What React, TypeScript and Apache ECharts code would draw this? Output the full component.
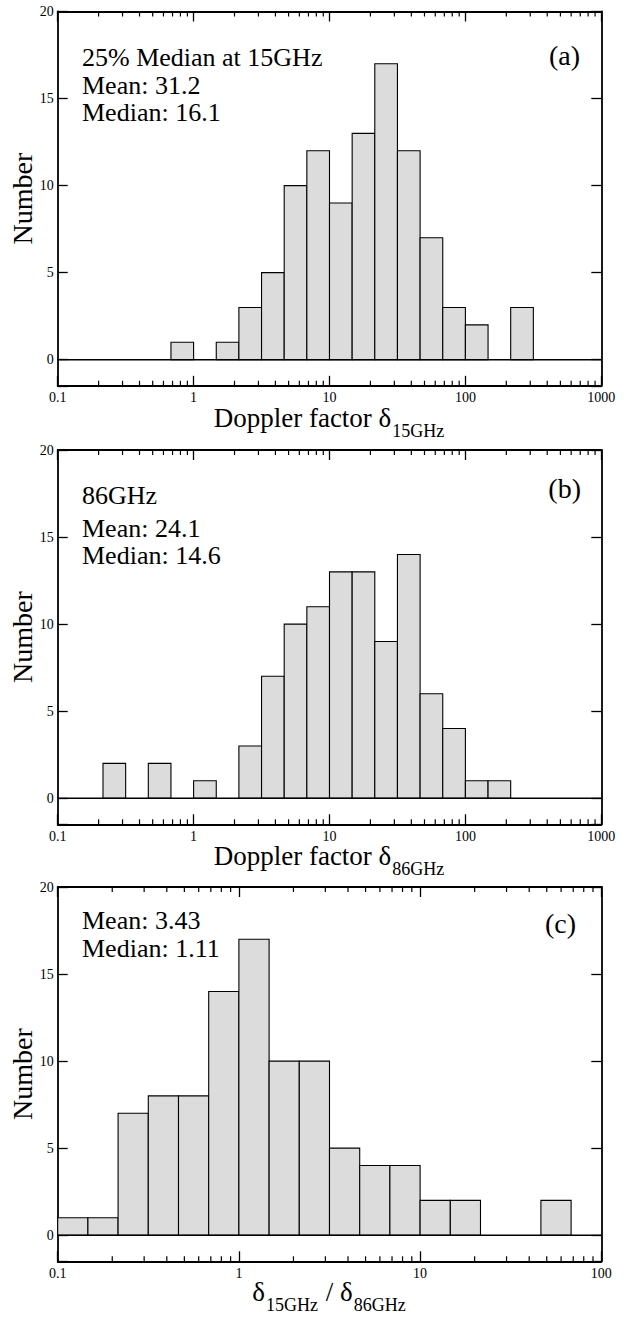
import React, { useEffect, useRef } from "react";
import * as echarts from "echarts";

// ---------- data ----------
// log-spaced histogram bin edges (1/6 decade)
const binEdges = [
  0.1, 0.1468, 0.2154, 0.3162, 0.4642, 0.6813, 1, 1.468, 2.154, 3.162, 4.642, 6.813,
  10, 14.68, 21.54, 31.62, 46.42, 68.13, 100, 146.8, 215.4, 316.2, 464.2, 681.3, 1000,
];
const countsA = [0, 0, 0, 0, 0, 1, 0, 1, 3, 5, 10, 12, 9, 13, 17, 12, 7, 3, 2, 0, 3, 0, 0, 0];
const countsB = [0, 0, 2, 0, 2, 0, 1, 0, 3, 7, 10, 11, 13, 13, 9, 14, 6, 4, 1, 1, 0, 0, 0, 0];
const countsC = [1, 1, 7, 8, 8, 14, 17, 10, 10, 5, 4, 4, 2, 2, 0, 0, 2, 0];

const xMaxAB = 1000;
const xMaxC = 100;
const xMin = 0.1;
const yMin = -1.5;
const yMax = 20;
const minorTicksAB = [
  0.2, 0.3, 0.4, 0.5, 0.6, 0.7, 0.8, 0.9, 2, 3, 4, 5, 6, 7, 8, 9,
  20, 30, 40, 50, 60, 70, 80, 90, 200, 300, 400, 500, 600, 700, 800, 900,
];
const minorTicksC = [
  0.2, 0.3, 0.4, 0.5, 0.6, 0.7, 0.8, 0.9, 2, 3, 4, 5, 6, 7, 8, 9,
  20, 30, 40, 50, 60, 70, 80, 90,
];
const notesA = ["25% Median at 15GHz", "Mean: 31.2", "Median: 16.1"];
const notesB = ["86GHz", "Mean: 24.1", "Median: 14.6"];
const notesC = ["Mean: 3.43", "Median: 1.11"];
const panelTags = ["(a)", "(b)", "(c)"];
const yTitle = "Number";

// ---------- layout ----------
const FONT = "Liberation Serif, Times New Roman, serif";
const GL = 57.7;
const GW = 543.6;
const GH = 374.3;
const TOPS = [11.5, 450, 887];

function measure(text: string, size: number): number {
  const c = document.createElement("canvas").getContext("2d")!;
  c.font = `${size}px ${FONT}`;
  return c.measureText(text).width;
}

function textEl(text: string, x: number, baseline: number, size: number, align = "left") {
  return {
    type: "text",
    x,
    y: baseline - 0.3375 * size,
    silent: true,
    style: {
      text,
      fontSize: size,
      fontFamily: FONT,
      fill: "#000",
      textAlign: align,
      textVerticalAlign: "middle",
    },
  };
}

function titleEls(parts: { t: string; sub: boolean }[], cx: number, baseline: number) {
  const MAIN = 27;
  const SUB = 18;
  const widths = parts.map((p) => measure(p.t, p.sub ? SUB : MAIN) + 1);
  const total = widths.reduce((a, b) => a + b, 0);
  let x = cx - total / 2;
  return parts.map((p, i) => {
    const size = p.sub ? SUB : MAIN;
    const el = textEl(p.t, x, p.sub ? baseline + 10 : baseline, size);
    x += widths[i];
    return el;
  });
}

function App() {
  const ref = useRef<HTMLDivElement>(null);
  useEffect(() => {
    document.body.style.margin = "0";
    const chart = echarts.init(ref.current!, null, { renderer: "svg" });

    const axisLine = { show: true, onZero: false, lineStyle: { color: "#000", width: 1.8 } };
    const tick = { show: true, inside: true, length: 10, lineStyle: { color: "#000", width: 1.3 } };
    const lblStyle = { fontSize: 14, color: "#000", fontFamily: FONT };

    const panels = [
      { counts: countsA, xMax: xMaxAB, minor: minorTicksAB },
      { counts: countsB, xMax: xMaxAB, minor: minorTicksAB },
      { counts: countsC, xMax: xMaxC, minor: minorTicksC },
    ];

    const grid: any[] = [];
    const xAxis: any[] = [];
    const yAxis: any[] = [];
    const series: any[] = [];

    panels.forEach((p, i) => {
      grid.push({ left: GL, top: TOPS[i], width: GW, height: GH, containLabel: false, outerBoundsMode: "none" });
      const xb = {
        type: "log",
        logBase: 10,
        gridIndex: i,
        min: xMin,
        max: p.xMax,
        axisLine,
        axisTick: tick,
        splitLine: { show: false },
      };
      xAxis.push({
        ...xb,
        position: "bottom",
        axisLabel: {
          ...lblStyle,
          margin: 5,
          formatter: (v: number) => String(parseFloat(Number(v).toPrecision(4))),
        },
      });
      xAxis.push({ ...xb, position: "top", axisLabel: { show: false } });
      const yb = {
        type: "value",
        gridIndex: i,
        min: yMin,
        max: yMax,
        axisLine,
        axisTick: tick,
        splitLine: { show: false },
      };
      yAxis.push({
        ...yb,
        position: "left",
        axisLabel: {
          ...lblStyle,
          margin: 4,
          formatter: (v: number) => (v % 5 === 0 ? String(v) : ""),
        },
      });
      yAxis.push({ ...yb, position: "right", axisLabel: { show: false } });

      const xi = i * 2;
      const yi = i * 2;
      const data = p.counts
        .map((c, k) => [binEdges[k], binEdges[k + 1], c])
        .filter((d) => d[2] > 0);
      series.push({
        type: "custom",
        xAxisIndex: xi,
        yAxisIndex: yi,
        data,
        encode: { x: [0, 1], y: 2 },
        z: 2,
        renderItem: (params: any, api: any) => {
          const p0 = api.coord([api.value(0), api.value(2)]);
          const p1 = api.coord([api.value(1), 0]);
          return {
            type: "rect",
            shape: { x: p0[0], y: p0[1], width: p1[0] - p0[0], height: p1[1] - p0[1] },
            style: { fill: "#dcdcdc", stroke: "#000", lineWidth: 1.1 },
          };
        },
      });
      series.push({
        type: "line",
        xAxisIndex: xi,
        yAxisIndex: yi,
        data: [
          [xMin, 0],
          [p.xMax, 0],
        ],
        showSymbol: false,
        symbol: "none",
        silent: true,
        z: 3,
        lineStyle: { color: "#000", width: 1.6 },
      });
      series.push({
        type: "custom",
        xAxisIndex: xi,
        yAxisIndex: yi,
        data: p.minor.map((v) => [v, 0]),
        encode: { x: 0, y: 1 },
        silent: true,
        z: 4,
        renderItem: (params: any, api: any) => {
          const cs = params.coordSys;
          const x = api.coord([api.value(0), 0])[0];
          const bot = cs.y + cs.height;
          return {
            type: "group",
            children: [
              { type: "line", shape: { x1: x, y1: bot, x2: x, y2: bot - 5 }, style: { stroke: "#000", lineWidth: 1.2 } },
              { type: "line", shape: { x1: x, y1: cs.y, x2: x, y2: cs.y + 5 }, style: { stroke: "#000", lineWidth: 1.2 } },
            ],
          };
        },
      });
    });

    const cx = GL + GW / 2;
    const graphic: any[] = [];
    // y titles
    TOPS.forEach((t) => {
      graphic.push({
        type: "text",
        x: 22,
        y: t + GH / 2,
        rotation: Math.PI / 2,
        silent: true,
        style: {
          text: yTitle,
          fontSize: 28,
          fontFamily: FONT,
          fill: "#000",
          textAlign: "center",
          textVerticalAlign: "middle",
        },
      });
    });
    // x titles
    const bottoms = TOPS.map((t) => t + GH);
    graphic.push(
      ...titleEls(
        [
          { t: "Doppler factor δ", sub: false },
          { t: "15GHz", sub: true },
        ],
        cx,
        bottoms[0] + 41
      )
    );
    graphic.push(
      ...titleEls(
        [
          { t: "Doppler factor δ", sub: false },
          { t: "86GHz", sub: true },
        ],
        cx,
        bottoms[1] + 41
      )
    );
    graphic.push(
      ...titleEls(
        [
          { t: "δ", sub: false },
          { t: "15GHz", sub: true },
          { t: " / δ", sub: false },
          { t: "86GHz", sub: true },
        ],
        cx,
        bottoms[2] + 40
      )
    );
    // annotations
    const NS = 26;
    [66.7, 94.3, 121].forEach((b, k) => graphic.push(textEl(notesA[k], 82, b, NS)));
    [504, 537, 564].forEach((b, k) => graphic.push(textEl(notesB[k], 82, b, NS)));
    [929.3, 957.3].forEach((b, k) => graphic.push(textEl(notesC[k], 82, b, NS)));
    graphic.push(textEl(panelTags[0], 580, 65, 28, "right"));
    graphic.push(textEl(panelTags[1], 581, 498, 28, "right"));
    graphic.push(textEl(panelTags[2], 576, 933, 28, "right"));

    chart.setOption({
      animation: false,
      backgroundColor: "#fff",
      grid,
      xAxis,
      yAxis,
      series,
      graphic,
    });
    return () => chart.dispose();
  }, []);
  return <div ref={ref} style={{ width: 629, height: 1318 }} />;
}

export default App;
